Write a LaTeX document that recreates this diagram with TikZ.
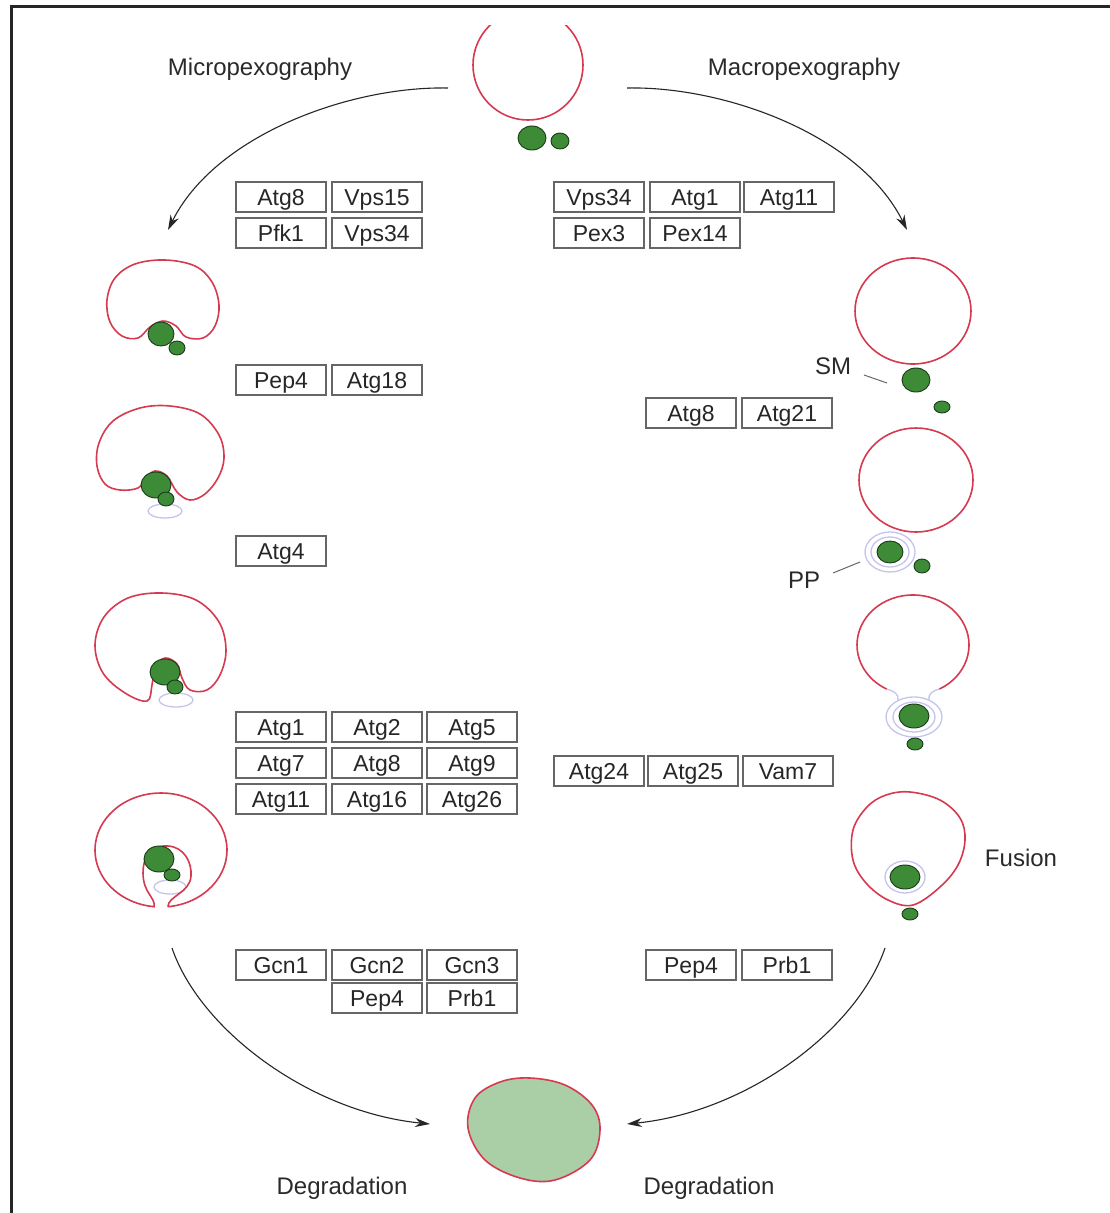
\documentclass[tikz,border=0pt]{standalone}
\usepackage{fontspec}
\setmainfont{Liberation Sans}
\usetikzlibrary{arrows.meta}
\definecolor{vred}{HTML}{D63A50}
\definecolor{pgreen}{HTML}{3D8B37}
\definecolor{pdark}{HTML}{1B3A19}
\definecolor{lav}{HTML}{C4C4EC}
\definecolor{dgreen}{HTML}{AACFA6}
\definecolor{txt}{HTML}{2A2A2A}
\begin{document}
\begin{tikzpicture}[x=1pt,y=-1pt,
  vac/.style={draw=vred, line width=1.6},
  perox/.style={fill=pgreen, draw=pdark, line width=0.9},
  lavline/.style={draw=lav, line width=1.3},
  pbox/.style={draw=black!60, line width=1.5, minimum width=90pt, minimum height=30pt, inner sep=0pt, text height=16.5pt, text depth=0pt, font=\fontsize{23}{25}\selectfont, text=black!85},
  lbl/.style={font=\fontsize{24}{28}\selectfont, text=txt},
  arr/.style={-{Stealth[length=15pt,width=9pt]}, line width=1.1, draw=black!85},
  tick/.style={draw=black!60, line width=1}]
\useasboundingbox (0,0) rectangle (1110,1213);
\fill[white] (0,0) rectangle (1110,1213);
% frame
\draw[line width=3.5, black!85] (11.5,1213) -- (11.5,6.5) -- (1110,6.5);

% labels
\node[lbl] (micro) at (260,69) {Micropexography};
\node[lbl] (macro) at (804,69) {Macropexography};
\node[lbl] (sm) at (833,366) {SM};
\node[lbl] (pp) at (804,580) {PP};
\node[lbl] (fus) at (1021,858) {Fusion};
\node[lbl] (degl) at (342,1188) {Degradation};
\node[lbl] (degr) at (709,1188) {Degradation};

% top vacuole (clipped at top)
\begin{scope}
\clip (400,25) rectangle (660,200);
\draw[vac] (528,65) ellipse[x radius=55, y radius=55];
\end{scope}
\draw[perox] (532,138) ellipse[x radius=14, y radius=12];
\draw[perox] (560,141) ellipse[x radius=9, y radius=8];

% arrows
\coordinate (tls) at (448,88);
\coordinate (tle) at (168,230);
\coordinate (trs) at (627,88);
\coordinate (tre) at (907,230);
\coordinate (bls) at (172,948);
\coordinate (ble) at (430,1124);
\coordinate (brs) at (885,948);
\coordinate (bre) at (627,1124);
\draw[arr] (tls) .. controls (350,86) and (215,135) .. (tle);
\draw[arr] (trs) .. controls (725,86) and (860,135) .. (tre);
\draw[arr] (bls) .. controls (200,1030) and (310,1112) .. (ble);
\draw[arr] (brs) .. controls (857,1030) and (747,1112) .. (bre);

% boxes top-left
\node[pbox] (b1) at (281,197) {Atg8};
\node[pbox] (b2) at (377,197) {Vps15};
\node[pbox] (b3) at (281,233) {Pfk1};
\node[pbox] (b4) at (377,233) {Vps34};
% boxes top-right
\node[pbox] (b5) at (599,197) {Vps34};
\node[pbox] (b6) at (695,197) {Atg1};
\node[pbox] (b7) at (789,197) {Atg11};
\node[pbox] (b8) at (599,233) {Pex3};
\node[pbox] (b9) at (695,233) {Pex14};
% Pep4 Atg18
\node[pbox] (b10) at (281,380) {Pep4};
\node[pbox] (b11) at (377,380) {Atg18};
% Atg8 Atg21
\node[pbox] (b12) at (691,413) {Atg8};
\node[pbox] (b13) at (787,413) {Atg21};
% Atg4
\node[pbox] (b14) at (281,551) {Atg4};
% big block
\node[pbox] (b15) at (281,727) {Atg1};
\node[pbox] (b16) at (377,727) {Atg2};
\node[pbox] (b17) at (472,727) {Atg5};
\node[pbox] (b18) at (281,763) {Atg7};
\node[pbox] (b19) at (377,763) {Atg8};
\node[pbox] (b20) at (472,763) {Atg9};
\node[pbox] (b21) at (281,799) {Atg11};
\node[pbox] (b22) at (377,799) {Atg16};
\node[pbox] (b23) at (472,799) {Atg26};
% right middle
\node[pbox] (b24) at (599,771) {Atg24};
\node[pbox] (b25) at (693,771) {Atg25};
\node[pbox] (b26) at (788,771) {Vam7};
% bottom left
\node[pbox] (b27) at (281,965) {Gcn1};
\node[pbox] (b28) at (377,965) {Gcn2};
\node[pbox] (b29) at (472,965) {Gcn3};
\node[pbox] (b30) at (377,998) {Pep4};
\node[pbox] (b31) at (472,998) {Prb1};
% bottom right
\node[pbox] (b32) at (691,965) {Pep4};
\node[pbox] (b33) at (787,965) {Prb1};

% ---- left stages ----
% L1
\draw[vac] plot[smooth cycle, tension=0.6] coordinates {(163,321) (176,326) (186,337) (203,338) (215,326) (219,305) (212,282) (195,266) (165,260) (135,264) (115,278) (107,300) (110,322) (122,336) (138,338) (150,327)};
\draw[perox] (161,334) ellipse[x radius=13, y radius=12];
\draw[perox] (177,348) ellipse[x radius=8, y radius=7];

% L2
\draw[lavline] (165,511) ellipse[x radius=17, y radius=7];
\draw[vac] plot[smooth cycle, tension=0.6] coordinates {(155,471) (167,476) (177,492) (190,500) (205,494) (218,478) (224,458) (219,435) (200,414) (170,406) (140,408) (113,421) (99,443) (97,466) (105,484) (120,490) (138,488) (146,478)};
\draw[perox] (156,485) ellipse[x radius=15, y radius=13];
\draw[perox] (166,499) ellipse[x radius=8, y radius=7];

% L3
\draw[lavline] (176,700) ellipse[x radius=17, y radius=7];
\draw[vac] plot[smooth cycle, tension=0.6] coordinates {(165,658) (177,664) (182,678) (190,690) (207,690) (220,675) (226,650) (219,622) (196,600) (162,593) (128,598) (104,617) (95,645) (103,673) (125,693) (147,701) (152,685) (155,667)};
\draw[perox] (165,672) ellipse[x radius=15, y radius=13];
\draw[perox] (175,687) ellipse[x radius=8, y radius=7];

% L4
\draw[lavline] (170,887) ellipse[x radius=16, y radius=7];
\draw[vac] (167.9,906.7) arc[start angle=-84, end angle=264, x radius=66pt, y radius=57pt]
  .. controls (156,898) and (143,893) .. (143,873)
  .. controls (143,852) and (156,845) .. (168,846)
  .. controls (184,847) and (192,862) .. (191,876)
  .. controls (190,893) and (168,896) .. (167.9,906.7);
\draw[perox] (159,859) ellipse[x radius=15, y radius=13];
\draw[perox] (172,875) ellipse[x radius=8, y radius=6];

% ---- right stages ----
% R1
\draw[vac] (913,311) ellipse[x radius=58, y radius=53];
\draw[perox] (916,380) ellipse[x radius=14, y radius=12];
\draw[perox] (942,407) ellipse[x radius=8, y radius=6];
\coordinate (smA) at (864,375);
\coordinate (smB) at (887,383);
\draw[tick] (smA) -- (smB);

% R2
\draw[vac] (916,480) ellipse[x radius=57, y radius=52];
\draw[lavline] (890,552) ellipse[x radius=25, y radius=20];
\draw[lavline] (890,552) ellipse[x radius=19, y radius=15];
\draw[perox] (890,552) ellipse[x radius=13, y radius=11];
\draw[perox] (922,566) ellipse[x radius=8, y radius=7];
\coordinate (ppA) at (833,573);
\coordinate (ppB) at (860,562);
\draw[tick] (ppA) -- (ppB);

% R3
\draw[vac] (939.3,689.1) arc[start angle=-62, end angle=242, x radius=56pt, y radius=50pt];
\draw[lavline] (886.7,689.1) .. controls (894,691) and (899,694) .. (898,700);
\draw[lavline] (939.3,689.1) .. controls (932,691) and (928,694) .. (929,700);
\draw[lavline] (914,717) ellipse[x radius=28, y radius=20];
\draw[lavline] (914,717) ellipse[x radius=21, y radius=15];
\draw[perox] (914,716) ellipse[x radius=15, y radius=12];
\draw[perox] (915,744) ellipse[x radius=8, y radius=6];

% R4
\draw[vac] plot[smooth cycle, tension=0.6] coordinates {(910,792) (940,800) (960,818) (965,840) (958,865) (940,887) (913,905) (888,900) (866,883) (853,860) (853,830) (867,807) (886,795)};
\draw[lavline] (905,877) ellipse[x radius=20, y radius=16];
\draw[perox] (905,877) ellipse[x radius=15, y radius=12];
\draw[perox] (910,914) ellipse[x radius=8, y radius=6];

% degradation vacuole
\draw[vac, fill=dgreen] plot[smooth cycle, tension=0.6] coordinates {(530,1078) (565,1085) (592,1105) (600,1130) (590,1160) (555,1180) (520,1178) (485,1160) (468,1128) (475,1098) (500,1082)};
\end{tikzpicture}
\end{document}
